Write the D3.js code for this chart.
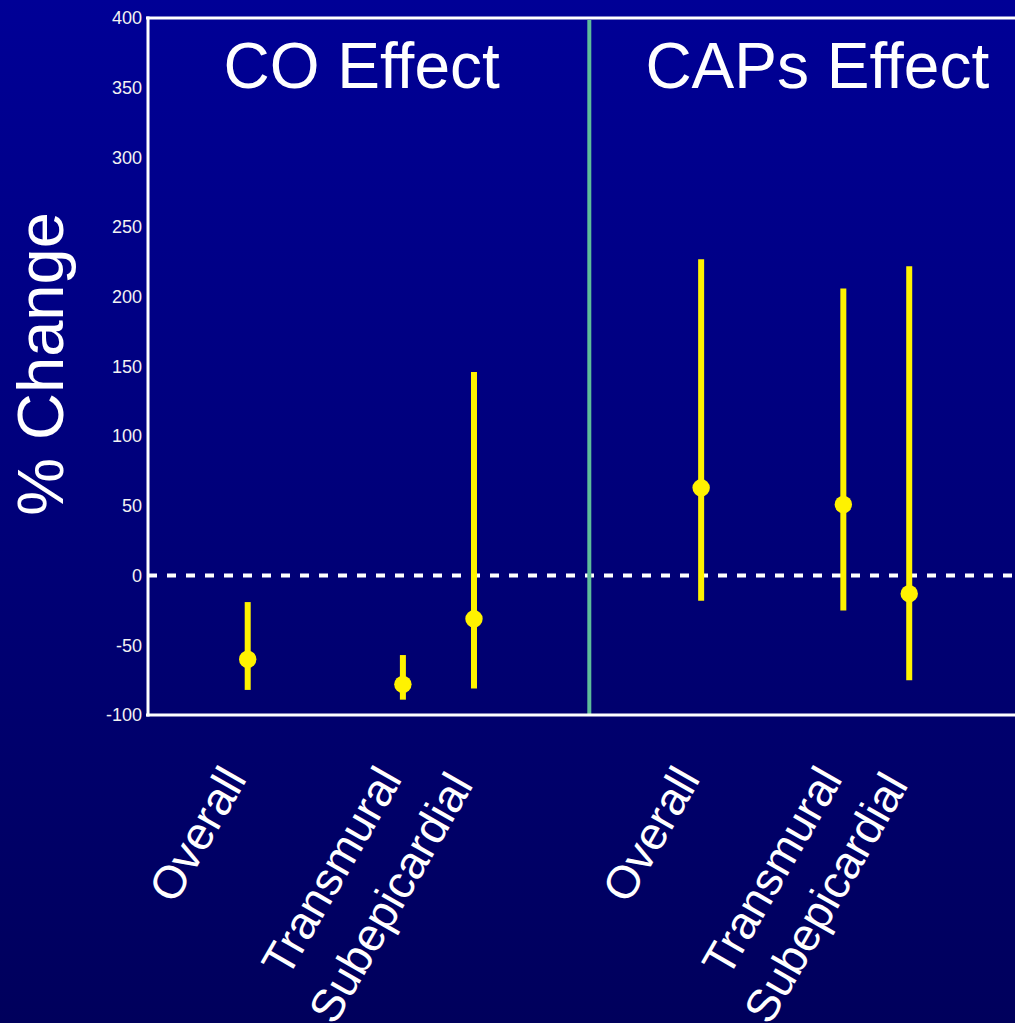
<!DOCTYPE html>
<html>
<head>
<meta charset="utf-8">
<script src="https://cdn.jsdelivr.net/npm/d3@7"></script>
<style>
  html, body { margin: 0; padding: 0; background: #000080; }
  svg { display: block; }
  text { font-family: "Liberation Sans", Arial, Helvetica, sans-serif; }
</style>
</head>
<body>
<div id="chart"></div>
<script>
// ---- data ----
const categories = ["Overall", "Transmural", "Subepicardial", "Overall", "Transmural", "Subepicardial"];
const groups     = ["CO", "CO", "CO", "CAPs", "CAPs", "CAPs"];
const xPos       = [1.15, 2.94, 3.76, 6.38, 8.02, 8.78];
const estimate   = [-60, -78, -31, 63, 51, -13];
const lower      = [-82, -89, -81, -18, -25, -75];
const upper      = [-19, -57, 146, 227, 206, 222];
const yTicks     = [-100, -50, 0, 50, 100, 150, 200, 250, 300, 350, 400];
const panelTitles = ["CO Effect", "CAPs Effect"];
const dividerPos = 5.09;

// ---- layout ----
const W = 1015, H = 1023;
const mLeft = 148, mRight = 1015, mTop = 18, mBottom = 715;

const x = d3.scaleLinear().domain([0, 10]).range([mLeft, mRight]);
const y = d3.scaleLinear().domain([-100, 400]).range([mBottom, mTop]);

const svg = d3.select("#chart").append("svg").attr("width", W).attr("height", H);

const defs = svg.append("defs");
const grad = defs.append("linearGradient").attr("id", "bg").attr("x1", 0).attr("y1", 0).attr("x2", 0).attr("y2", 1);
grad.append("stop").attr("offset", "0%").attr("stop-color", "#000096");
grad.append("stop").attr("offset", "100%").attr("stop-color", "#00005C");
svg.append("rect").attr("width", W).attr("height", H).attr("fill", "url(#bg)");

// zero dashed line
svg.append("line")
  .attr("x1", mLeft).attr("x2", mRight)
  .attr("y1", y(0)).attr("y2", y(0))
  .attr("stroke", "#ffffff").attr("stroke-width", 4)
  .attr("stroke-dasharray", "9,10");

// divider
svg.append("line")
  .attr("x1", x(dividerPos)).attr("x2", x(dividerPos))
  .attr("y1", mTop + 2).attr("y2", mBottom)
  .attr("stroke", "#5DBB9A").attr("stroke-width", 4);

// y axis via d3.axisLeft (no tick marks)
const yAxis = d3.axisLeft(y).tickValues(yTicks).tickSize(0).tickPadding(6).tickFormat(d => String(d));
const gy = svg.append("g").attr("transform", `translate(${mLeft},0)`).call(yAxis);
gy.select(".domain").remove();
gy.selectAll("text").attr("fill", "#f2f2f2").attr("font-size", 18)
  .attr("font-family", "'Liberation Sans', Arial, sans-serif");

// frame lines
svg.append("line").attr("x1", mLeft - 2).attr("x2", mRight).attr("y1", mTop).attr("y2", mTop)
  .attr("stroke", "#ffffff").attr("stroke-width", 3);
svg.append("line").attr("x1", mLeft - 2).attr("x2", mRight).attr("y1", mBottom).attr("y2", mBottom)
  .attr("stroke", "#ffffff").attr("stroke-width", 3);
svg.append("line").attr("x1", mLeft).attr("x2", mLeft).attr("y1", mTop - 1.5).attr("y2", mBottom + 1.5)
  .attr("stroke", "#ffffff").attr("stroke-width", 3);

// data rows
const rows = categories.map((c, i) => ({
  cat: c, group: groups[i], pos: xPos[i], est: estimate[i], lo: lower[i], hi: upper[i]
}));

// error bars
svg.append("g").selectAll("line").data(rows).join("line")
  .attr("x1", d => x(d.pos)).attr("x2", d => x(d.pos))
  .attr("y1", d => y(d.lo)).attr("y2", d => y(d.hi))
  .attr("stroke", "#FFF200").attr("stroke-width", 6);

// points
svg.append("g").selectAll("circle").data(rows).join("circle")
  .attr("cx", d => x(d.pos)).attr("cy", d => y(d.est))
  .attr("r", 8.7).attr("fill", "#FFF200");

// category labels
svg.append("g").selectAll("text").data(rows).join("text")
  .attr("transform", d => `translate(${x(d.pos)},${d.cat.length > 11 ? 785 : 779}) rotate(-60)`)
  .attr("text-anchor", "end")
  .attr("font-size", 46)
  .attr("fill", "#ffffff")
  .text(d => d.cat);

// panel titles
const titleCenters = [(mLeft + x(dividerPos)) / 2 - 7, x(dividerPos) + 228];
svg.append("g").selectAll("text").data(panelTitles).join("text")
  .attr("x", (d, i) => titleCenters[i])
  .attr("y", 88)
  .attr("text-anchor", "middle")
  .attr("font-size", 64)
  .attr("fill", "#ffffff")
  .text(d => d);

// y-axis title
svg.append("text")
  .attr("transform", "translate(63,364) rotate(-90)")
  .attr("text-anchor", "middle")
  .attr("font-size", 65)
  .attr("fill", "#ffffff")
  .text("% Change");
</script>
</body>
</html>
